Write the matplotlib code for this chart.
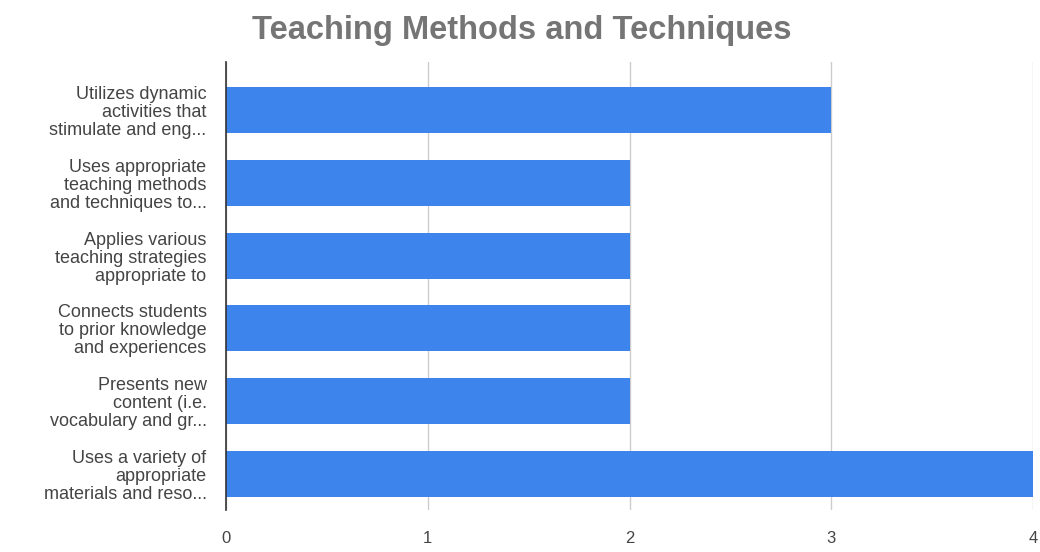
import matplotlib.pyplot as plt

# survey categories (top to bottom) and their counts
labels = [
    "Utilizes dynamic\nactivities that\nstimulate and eng...",
    "Uses appropriate\nteaching methods\nand techniques to...",
    "Applies various\nteaching strategies\nappropriate to",
    "Connects students\nto prior knowledge\nand experiences",
    "Presents new\ncontent (i.e.\nvocabulary and gr...",
    "Uses a variety of\nappropriate\nmaterials and reso...",
]
counts = [3, 2, 2, 2, 2, 4]
xticks = [0, 1, 2, 3, 4]

plt.rcParams['font.family'] = ['Liberation Sans', 'DejaVu Sans']

fig = plt.figure(figsize=(10.4, 5.52), dpi=100)
ax = fig.add_axes([0.2173, 0.0761, 0.776, 0.8116])

pos = list(range(len(labels)))
ax.barh(pos, counts, height=0.63, color='#3d85ec', zorder=3)

ax.set_ylim(len(labels) - 0.5, -0.665)
ax.set_xlim(0, 4)
ax.set_xticks(xticks)
ax.set_yticks(pos)
ax.set_yticklabels(labels, fontsize=13, color='#444444', linespacing=1.08)
ax.tick_params(axis='y', length=0, pad=14)
ax.tick_params(axis='x', length=0, pad=15, labelsize=12, labelcolor='#444444')

ax.grid(axis='x', color='#cccccc', linewidth=1, zorder=0)
for side in ['top', 'right', 'bottom']:
    ax.spines[side].set_visible(False)
ax.spines['left'].set_color('#333333')
ax.spines['left'].set_linewidth(1.2)
ax.spines['left'].set_zorder(4)

fig.text(0.502, 0.944, "Teaching Methods and Techniques", ha='center', va='center',
         fontsize=23.5, fontweight='bold', color='#757575')

fig.savefig('out.png', dpi=100)
